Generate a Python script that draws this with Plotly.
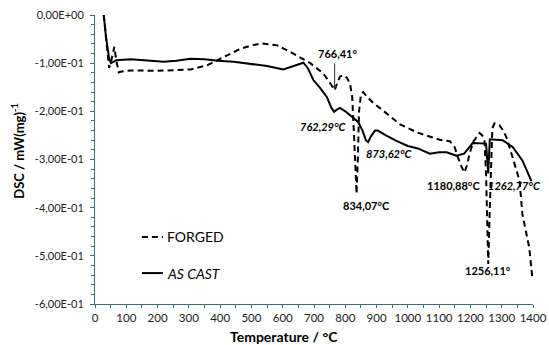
import plotly.graph_objects as go

# ---------------- data ----------------
as_cast_T = [28, 35, 45, 51, 60, 67, 115, 170, 220, 260, 306, 350, 392, 443, 500, 550, 602, 640, 666,
             680, 698, 720, 741, 755, 764, 772, 783, 800, 815, 841, 855, 866, 873, 882, 895, 904, 930,
             965, 1000, 1032, 1070, 1100, 1124, 1155, 1180, 1197, 1207, 1250, 1254, 1257, 1259, 1262,
             1303, 1335, 1366, 1388, 1395]
as_cast_v = [0.0, -0.045, -0.09, -0.100, -0.097, -0.094, -0.092, -0.095, -0.097, -0.095, -0.091, -0.092,
             -0.095, -0.097, -0.101, -0.106, -0.113, -0.104, -0.099, -0.110, -0.135, -0.152, -0.170,
             -0.192, -0.201, -0.197, -0.193, -0.200, -0.208, -0.222, -0.240, -0.260, -0.264, -0.252,
             -0.240, -0.240, -0.250, -0.262, -0.272, -0.277, -0.288, -0.285, -0.285, -0.292, -0.288,
             -0.274, -0.266, -0.267, -0.300, -0.329, -0.300, -0.258, -0.260, -0.274, -0.302, -0.337, -0.345]

forged_T = [28, 40, 45, 52, 58, 62, 68, 76, 90, 115, 200, 306, 360, 411, 465, 500, 535, 583, 634, 688,
            729, 750, 766, 775, 783, 793, 805, 815, 822, 828, 832, 836, 840, 844, 850, 857, 870, 890,
            920, 975, 1030, 1080, 1102, 1134, 1150, 1160, 1172, 1181, 1190, 1197, 1210, 1219, 1229,
            1238, 1245, 1250, 1254, 1257, 1262, 1266, 1270, 1277, 1293, 1305, 1315, 1335, 1357, 1366,
            1388, 1398]
forged_v = [0.0, -0.07, -0.110, -0.095, -0.072, -0.066, -0.095, -0.119, -0.117, -0.115, -0.116, -0.113,
            -0.104, -0.087, -0.070, -0.063, -0.059, -0.063, -0.080, -0.100, -0.121, -0.140, -0.156,
            -0.140, -0.128, -0.125, -0.130, -0.142, -0.170, -0.250, -0.330, -0.371, -0.300, -0.200,
            -0.165, -0.160, -0.170, -0.183, -0.198, -0.227, -0.244, -0.255, -0.259, -0.262, -0.275,
            -0.295, -0.316, -0.327, -0.310, -0.288, -0.262, -0.254, -0.245, -0.250, -0.262, -0.330,
            -0.450, -0.517, -0.400, -0.290, -0.235, -0.225, -0.229, -0.240, -0.254, -0.296, -0.344,
            -0.413, -0.483, -0.546]

x_ticks = list(range(0, 1401, 100))
y_ticks = [0.0, -0.1, -0.2, -0.3, -0.4, -0.5, -0.6]
y_tick_labels = ["0,00E+00", "-1,00E-01", "-2,00E-01", "-3,00E-01", "-4,00E-01", "-5,00E-01", "-6,00E-01"]

peak_labels = ["766,41°", "762,29°C", "873,62°C", "834,07°C", "1180,88°C", "1262,77°C", "1256,11°"]
peak_T = [776, 729, 940, 869, 1147, 1342, 1256]
peak_v = [-0.079, -0.231, -0.287, -0.395, -0.353, -0.353, -0.530]
peak_italic = [False, True, True, False, False, True, False]

FONT = "Lato"
AXC = "#3f6e6e"

fig = go.Figure()
fig.add_trace(go.Scatter(x=forged_T, y=forged_v, mode="lines", name="FORGED",
                         line=dict(color="black", width=2, dash="6px,4px")))
fig.add_trace(go.Scatter(x=as_cast_T, y=as_cast_v, mode="lines", name="AS CAST",
                         line=dict(color="black", width=2)))

annotations = []
for lab, t, v, it in zip(peak_labels, peak_T, peak_v, peak_italic):
    txt = f"<b><i>{lab}</i></b>" if it else f"<b>{lab}</b>"
    annotations.append(dict(x=t, y=v, xref="x", yref="y", text=txt, showarrow=False,
                            xanchor="center", yanchor="middle",
                            font=dict(family=FONT, size=11, color="black")))
# arrow for 766,41
annotations.append(dict(x=766, y=-0.155, xref="x", yref="y", ax=0, ay=-28, text="",
                        showarrow=True, arrowhead=2, arrowsize=0.8, arrowwidth=1, arrowcolor="#333"))

# axis titles
annotations.append(dict(x=-0.176, y=0.53, xref="paper", yref="paper", textangle=-90,
                        xanchor="center", yanchor="middle",
                        text="<b>DSC / mW(mg)<sup>-1</sup></b>", showarrow=False,
                        font=dict(family=FONT, size=13, color="black")))
annotations.append(dict(x=0.432, y=-0.112, xref="paper", yref="paper",
                        xanchor="center", yanchor="middle",
                        text="<b>Temperature / °C</b>", showarrow=False,
                        font=dict(family=FONT, size=14, color="black")))

# legend
annotations.append(dict(x=0.160, y=0.232, xref="paper", yref="paper", xanchor="left", yanchor="middle",
                        text="FORGED", showarrow=False, font=dict(family=FONT, size=14, color="black")))
annotations.append(dict(x=0.160, y=0.107, xref="paper", yref="paper", xanchor="left", yanchor="middle",
                        text="<i>AS CAST</i>", showarrow=False, font=dict(family=FONT, size=14, color="black")))
shapes = [
    dict(type="line", xref="paper", yref="paper", x0=0.107, x1=0.155, y0=0.232, y1=0.232,
         line=dict(color="black", width=2, dash="6px,4px")),
    dict(type="line", xref="paper", yref="paper", x0=0.107, x1=0.155, y0=0.107, y1=0.107,
         line=dict(color="black", width=2)),
]

fig.update_layout(
    width=549, height=345,
    margin=dict(l=95, r=16, t=15, b=41, autoexpand=False),
    paper_bgcolor="white", plot_bgcolor="white",
    showlegend=False,
    annotations=annotations, shapes=shapes,
    font=dict(family=FONT, size=11, color="#222"),
)
fig.update_xaxes(range=[0, 1400], tickvals=x_ticks, ticktext=[str(t) for t in x_ticks],
                 automargin=False,
                 showgrid=False, zeroline=False, showline=True, linecolor=AXC, linewidth=1,
                 ticks="outside", ticklen=3, tickcolor=AXC,
                 minor=dict(dtick=50, ticks="outside", ticklen=3, tickcolor=AXC),
                 tickfont=dict(family=FONT, size=11.5, color="#1a1a1a"))
fig.update_yaxes(range=[-0.6, 0], tickvals=y_ticks, ticktext=y_tick_labels,
                 automargin=False, ticklabelstandoff=4,
                 showgrid=False, zeroline=False, showline=True, linecolor=AXC, linewidth=1,
                 ticks="outside", ticklen=4, tickcolor=AXC,
                 minor=dict(dtick=0.02, ticks="outside", ticklen=3, tickcolor=AXC),
                 tickfont=dict(family=FONT, size=11, color="#222"))

fig.write_html("out.html", config={"displayModeBar": False},
               post_script="document.body.style.margin='0';document.body.style.overflow='hidden';")
